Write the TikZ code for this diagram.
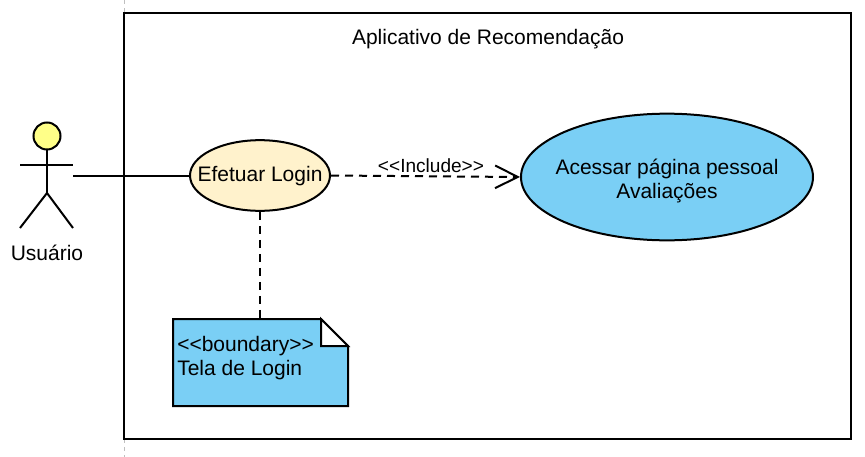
\documentclass[tikz,border=0pt]{standalone}
\usepackage{fontspec}
\setmainfont{Liberation Sans}
\usetikzlibrary{arrows.meta,shapes.geometric}
\definecolor{casoAzul}{HTML}{7ACFF5}
\definecolor{casoBege}{HTML}{FFF2CC}
\definecolor{atorAmarelo}{HTML}{FFFF88}
\tikzset{
    linha/.style={draw=black, line width=1.5pt},
    tracejada/.style={linha, dash pattern=on 6pt off 4.5pt},
    casoUso/.style={ellipse, linha, inner sep=0pt},
    rotulo/.style={inner sep=0pt, align=center, font=\fontsize{15.75}{18}\selectfont},
    aberta/.style={-{Straight Barb[length=17pt,width=17pt,line width=1.5pt]}}
}
\newcommand{\drawAtor}[2]{
    \draw[linha, fill=atorAmarelo] (#1,#2-29) circle (13.5*0.75pt);
    \draw[linha] (#1,#2-16) -- (#1,#2+28);
    \draw[linha] (#1-27,#2) -- (#1+26,#2);
    \draw[linha] (#1-27,#2+63) -- (#1,#2+28) -- (#1+26,#2+63);
}
\begin{document}
\begin{tikzpicture}[x=0.75pt,y=-0.75pt]
            \useasboundingbox (0,0) rectangle (865,457);
            \draw[lightgray, dashed, thin] (124,0) -- (124,13);
            \draw[lightgray, dashed, thin] (124,439) -- (124,457);
            \draw[linha] (124,13) rectangle (851,439);
            \node[rotulo] (titulo) at (488,39) {Aplicativo de Recomendação};

            \drawAtor{47}{165};
            \coordinate (usuarioMao) at (73,175.5);
            \node[rotulo] (usuario) at (47,253) {Usuário};

            \node[casoUso, fill=casoBege, minimum width=105pt, minimum height=53pt] (login) at (260,175.5) {};
            \node[rotulo] (loginTexto) at (260,176.5) {Efetuar Login};
            \node[casoUso, fill=casoAzul, minimum width=219pt, minimum height=95pt] (pagina) at (667,177) {};
            \node[rotulo] (paginaTexto) at (667,180.5) {Acessar página pessoal\\Avaliações};

            \draw[linha, fill=casoAzul] (173,319) -- (321,319) -- (348,346) -- (348,406) -- (173,406) -- cycle;
            \draw[linha, fill=white] (321,319) -- (348,346) -- (321,346) -- cycle;
            \node[rotulo, align=left, anchor=north west] (tela) at (177,336) {<{}<boundary>{}>\\Tela de Login};
            \coordinate (telaTopo) at (260,319);

            \draw[linha] (usuarioMao) -- (login.west);
            \draw[tracejada] (login.south) -- (telaTopo);
            \draw[tracejada, aberta] (login.east) -- (pagina.west);
            \node[inner sep=0pt, font=\fontsize{14.3}{16}\selectfont] (inclui) at (431,166) {<{}<Include>{}>};
\end{tikzpicture}
\end{document}
